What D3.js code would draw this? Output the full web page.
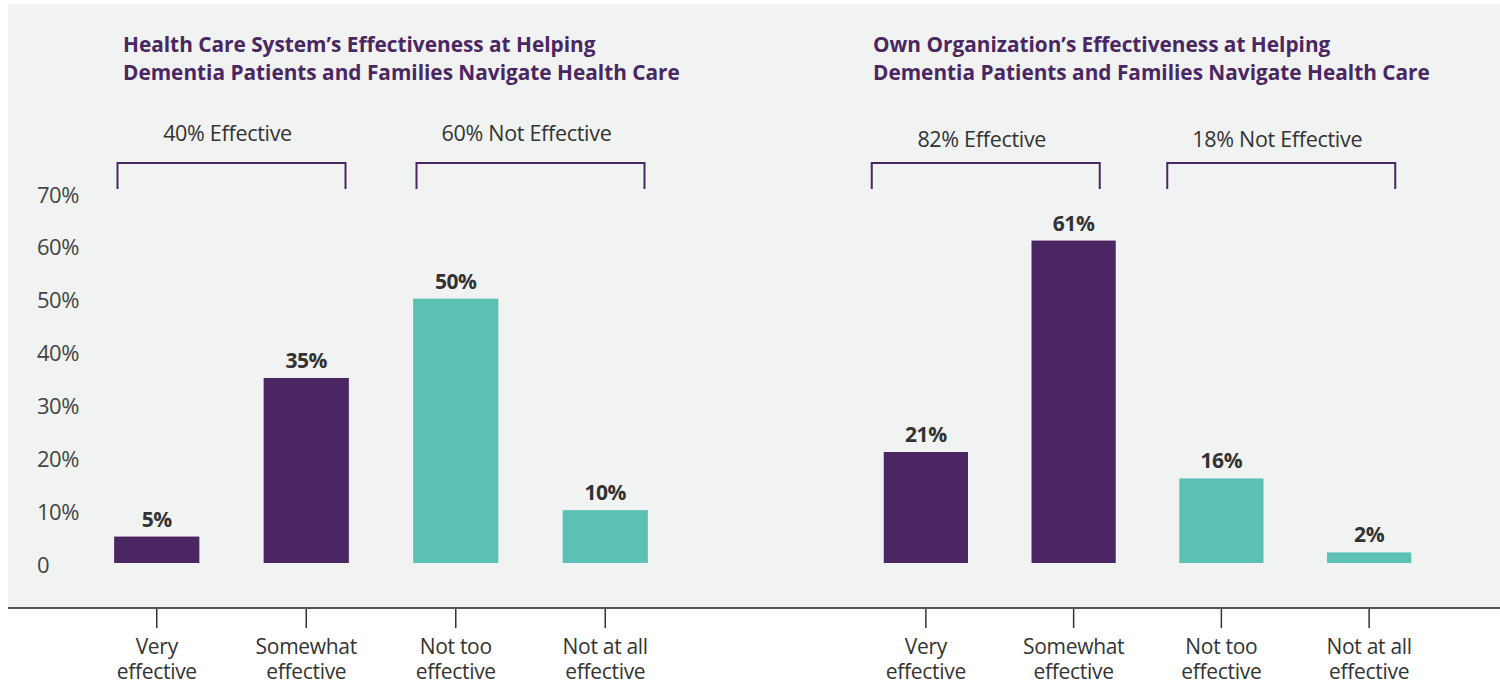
<!DOCTYPE html>
<html>
<head>
<meta charset="utf-8">
<script src="https://cdn.jsdelivr.net/npm/d3@7"></script>
<style>
  body { margin: 0; background: #fff; }
  svg { display: block; font-family: "Open Sans", sans-serif; }
</style>
</head>
<body>
<div id="chart"></div>
<script>
const categories = ["Very effective", "Somewhat effective", "Not too effective", "Not at all effective"];
const categoryLines = [["Very", "effective"], ["Somewhat", "effective"], ["Not too", "effective"], ["Not at all", "effective"]];
const healthSystemValues = [5, 35, 50, 10];
const ownOrgValues = [21, 61, 16, 2];
const yTicks = [0, 10, 20, 30, 40, 50, 60, 70];
const healthSystemTitle = ["Health Care System\u2019s Effectiveness at Helping", "Dementia Patients and Families Navigate Health Care"];
const ownOrgTitle = ["Own Organization\u2019s Effectiveness at Helping", "Dementia Patients and Families Navigate Health Care"];
const healthSystemGroups = ["40% Effective", "60% Not Effective"];
const ownOrgGroups = ["82% Effective", "18% Not Effective"];

const width = 1500, height = 684;
const purple = "#4a2762", teal = "#5bc1b5";
const barColor = i => i < 2 ? purple : teal;

const svg = d3.select("#chart")
    .append("svg")
    .attr("width", width)
    .attr("height", height);

// grey panel
svg.append("rect")
    .attr("x", 8).attr("y", 4)
    .attr("width", width - 8).attr("height", 604)
    .attr("fill", "#f1f2f2");

const y = d3.scaleLinear().domain([0, 70]).range([563, 193]);

// y axis labels (left aligned)
const yAxis = d3.axisRight(y)
    .tickValues(yTicks)
    .tickSize(0)
    .tickPadding(0)
    .tickFormat(d => d === 0 ? "0" : d + "%");

svg.append("g")
    .attr("transform", "translate(37,2)")
    .call(yAxis)
    .call(g => g.select(".domain").remove())
    .selectAll("text")
    .attr("font-family", "'Open Sans', sans-serif")
    .attr("font-size", "22px")
    .attr("letter-spacing", "-0.5px")
    .attr("fill", "#444");

// baseline under panel
svg.append("line")
    .attr("x1", 8).attr("x2", width)
    .attr("y1", 608).attr("y2", 608)
    .attr("stroke", "#555")
    .attr("stroke-width", 2);

const panels = [
    { title: healthSystemTitle, groups: healthSystemGroups, values: healthSystemValues, range: [82, 680], titleX: 123, bracketShift: 0, labelY: 141 },
    { title: ownOrgTitle, groups: ownOrgGroups, values: ownOrgValues, range: [852, 1443], titleX: 873, bracketShift: -14, labelY: 147 }
];

panels.forEach(p => {
    const x = d3.scaleBand()
        .domain(categories)
        .range(p.range)
        .paddingInner(0.43)
        .paddingOuter(0.215);
    const bw = x.bandwidth();
    const g = svg.append("g");

    // title
    g.append("text")
        .attr("x", p.titleX)
        .attr("y", 52)
        .attr("font-size", "20.8px")
        .attr("font-weight", "bold")
        .attr("fill", purple)
        .selectAll("tspan")
        .data(p.title)
        .join("tspan")
        .attr("x", p.titleX)
        .attr("dy", (d, i) => i === 0 ? 0 : 28)
        .text(d => d);

    // brackets + group labels
    p.groups.forEach((label, gi) => {
        const a = categories[gi * 2], b = categories[gi * 2 + 1];
        const mid = (x(a) + x(b) + bw) / 2 + p.bracketShift;
        const x1 = mid - 114, x2 = mid + 114;
        g.append("path")
            .attr("d", `M${x1},189V163H${x2}V189`)
            .attr("fill", "none")
            .attr("stroke", purple)
            .attr("stroke-width", 2);
        g.append("text")
            .attr("x", mid - 4)
            .attr("y", p.labelY)
            .attr("text-anchor", "middle")
            .attr("font-size", "21.5px")
            .attr("letter-spacing", "-0.3px")
            .attr("fill", "#333")
            .text(label);
    });

    // bars
    g.selectAll("rect.bar")
        .data(p.values)
        .join("rect")
        .attr("class", "bar")
        .attr("x", (d, i) => x(categories[i]))
        .attr("y", d => y(d))
        .attr("width", bw)
        .attr("height", d => y(0) - y(d))
        .attr("fill", (d, i) => barColor(i));

    // value labels
    g.selectAll("text.val")
        .data(p.values)
        .join("text")
        .attr("class", "val")
        .attr("x", (d, i) => x(categories[i]) + bw / 2)
        .attr("y", d => y(d) - 10)
        .attr("text-anchor", "middle")
        .attr("font-size", "21px")
        .attr("font-weight", "bold")
        .attr("letter-spacing", "-0.4px")
        .attr("fill", "#333")
        .text(d => d + "%");

    // category axis
    const xAxis = d3.axisBottom(x).tickSize(19).tickPadding(0).tickFormat("");
    const ax = g.append("g")
        .attr("transform", "translate(0,609)")
        .call(xAxis);
    ax.select(".domain").remove();
    ax.selectAll(".tick line").attr("stroke", "#333").attr("stroke-width", 1.5);
    ax.selectAll(".tick text").remove();
    ax.selectAll(".tick")
        .append("text")
        .attr("text-anchor", "middle")
        .attr("font-family", "'Open Sans', sans-serif")
        .attr("font-size", "21px")
        .attr("letter-spacing", "-0.3px")
        .attr("fill", "#333")
        .selectAll("tspan")
        .data(d => categoryLines[categories.indexOf(d)])
        .join("tspan")
        .attr("x", 0)
        .attr("y", (d, i) => 45 + i * 25)
        .text(d => d);
});
</script>
</body>
</html>
